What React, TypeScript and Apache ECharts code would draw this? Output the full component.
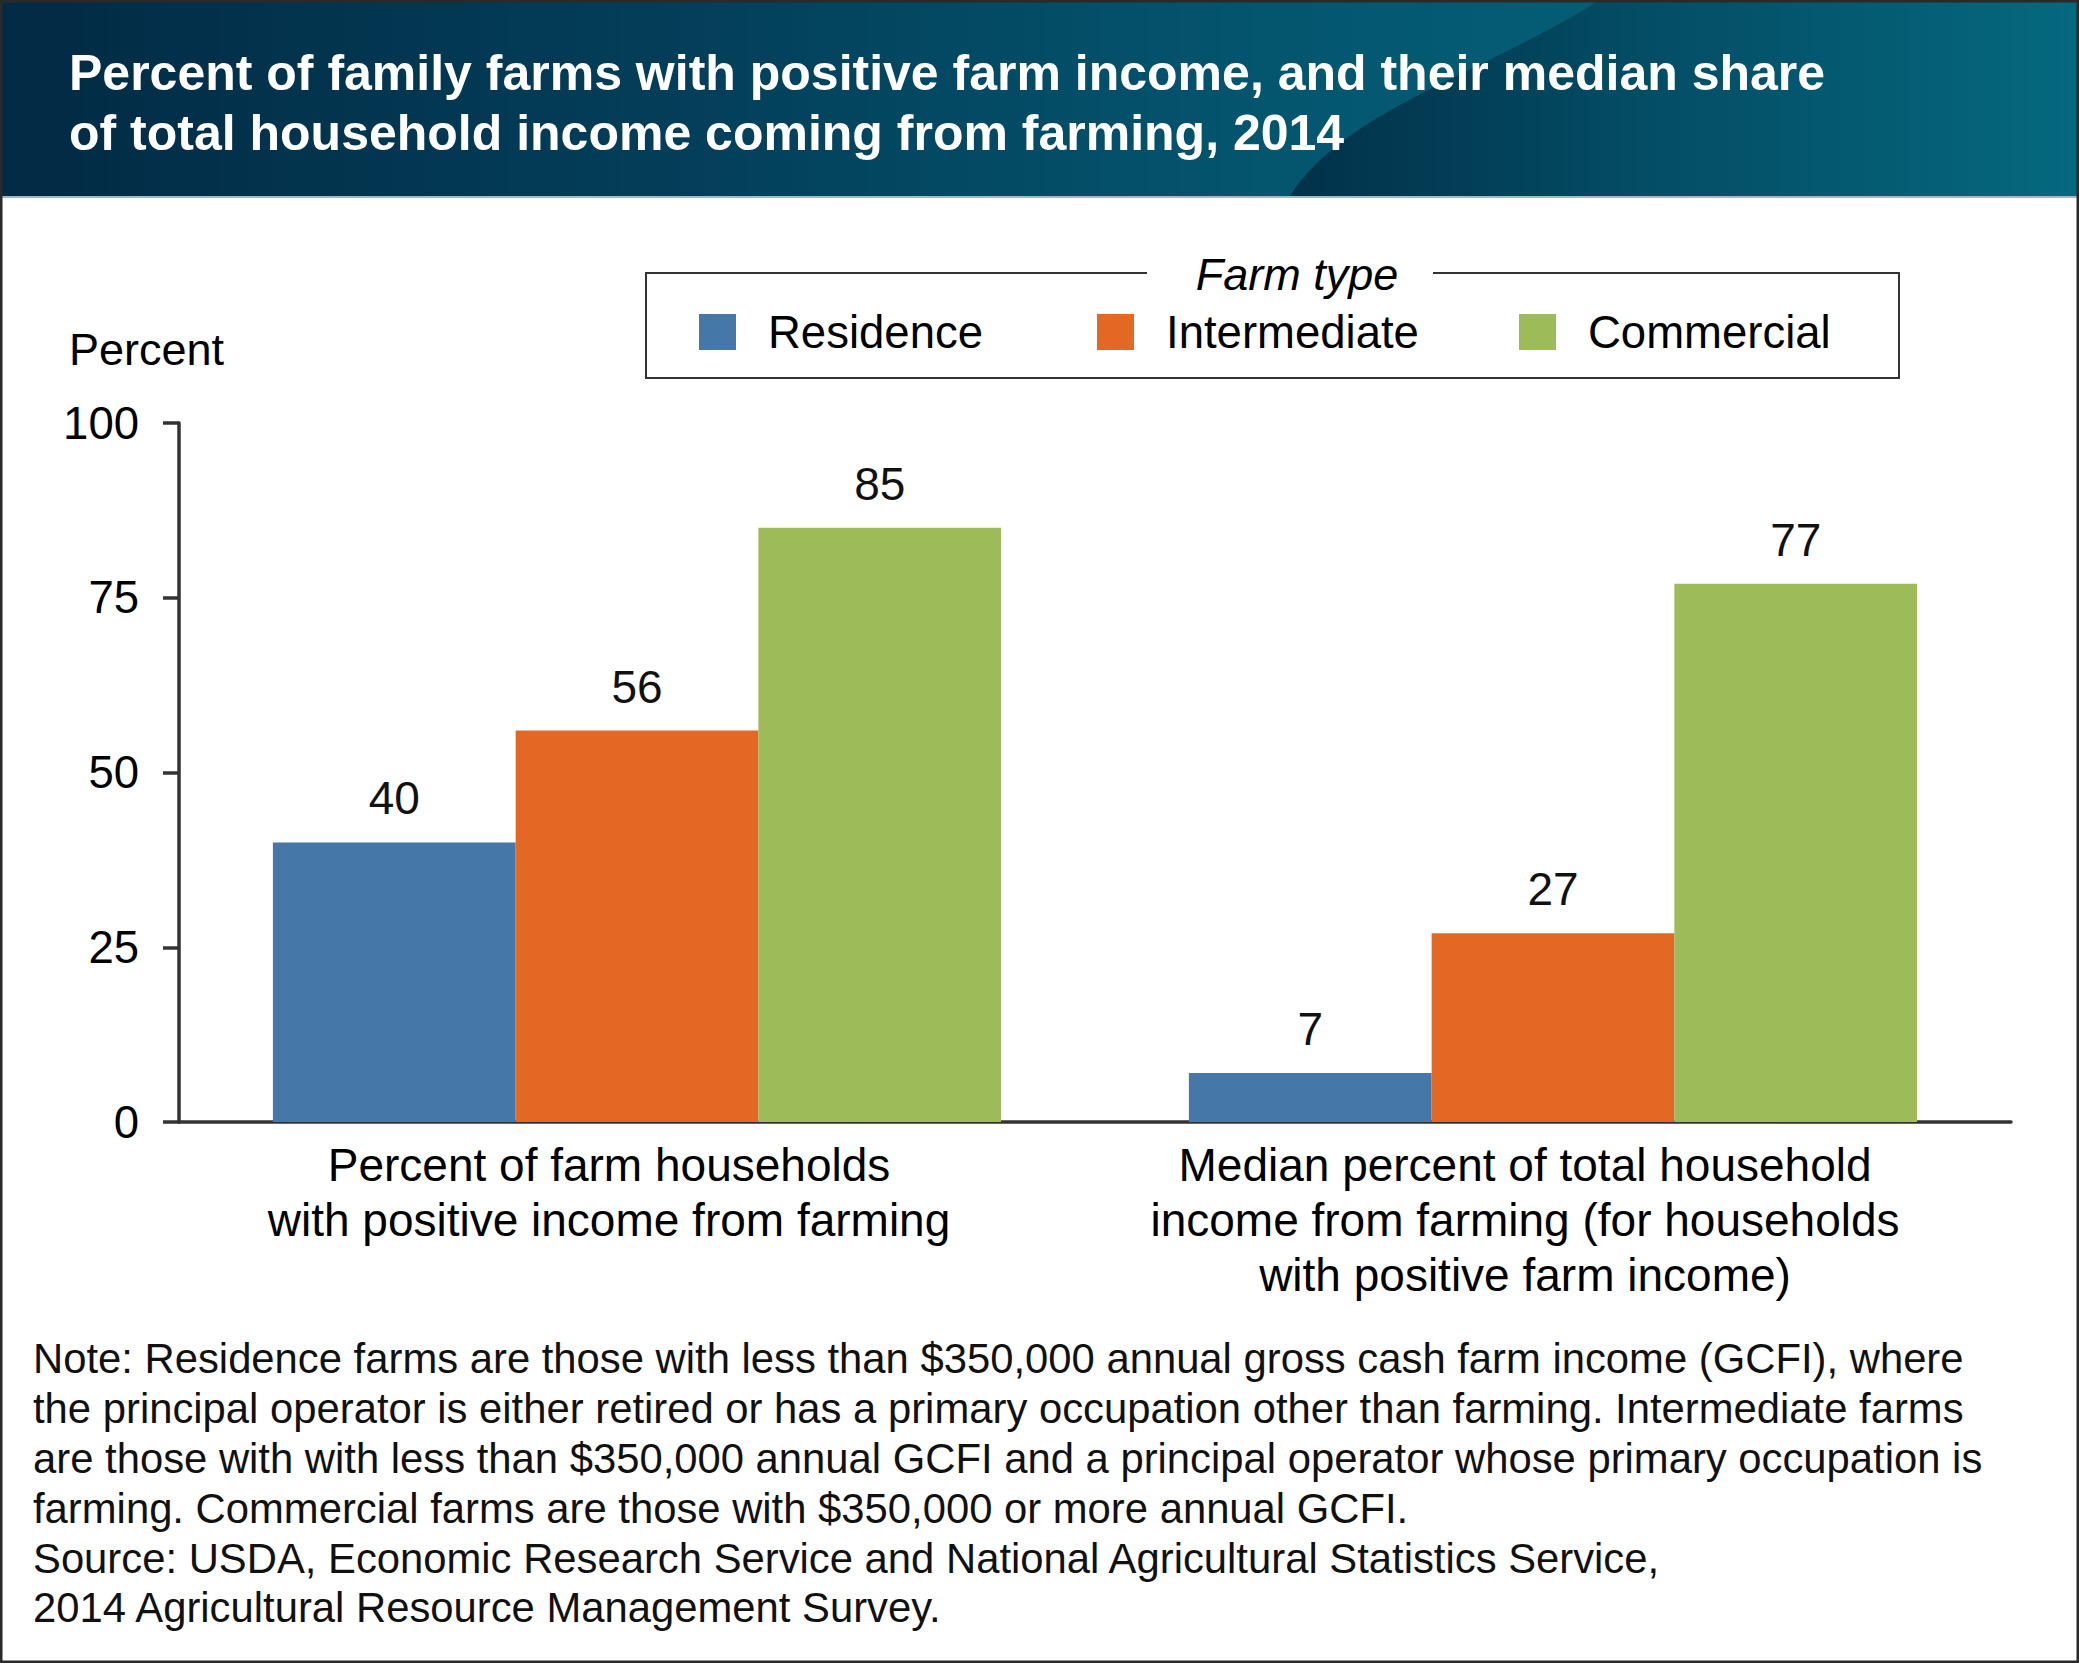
import React, { useEffect, useRef } from "react";
import * as echarts from "echarts";

const categories = [
  "Percent of farm households\nwith positive income from farming",
  "Median percent of total household\nincome from farming (for households\nwith positive farm income)",
];
const seriesNames = ["Residence", "Intermediate", "Commercial"];
const residence = [40, 7];
const intermediate = [56, 27];
const commercial = [85, 77];
const colors = ["#4577a9", "#e36823", "#9dbb59"];
const yTicks = { min: 0, max: 100, interval: 25 };

const titleText =
  "Percent of family farms with positive farm income, and their median share\nof total household income coming from farming, 2014";
const noteText =
  "Note: Residence farms are those with less than $350,000 annual gross cash farm income (GCFI), where\n" +
  "the principal operator is either retired or has a primary occupation other than farming. Intermediate farms\n" +
  "are those with with less than $350,000 annual GCFI and a principal operator whose primary occupation is\n" +
  "farming. Commercial farms are those with $350,000 or more annual GCFI.\n" +
  "Source: USDA, Economic Research Service and National Agricultural Statistics Service,\n" +
  "2014 Agricultural Resource Management Survey.";

const FONT = '"Liberation Sans", Arial, Helvetica, sans-serif';

echarts.graphic.registerShape(
  "headerWave",
  echarts.graphic.extendPath(
    "M1290 196 C1345 110 1480 75 1600 0 L2079 0 L2079 196 Z",
    {}
  ) as any
);

export default function App() {
  const ref = useRef<HTMLDivElement>(null);
  useEffect(() => {
    document.body.style.margin = "0";
    const chart = echarts.init(ref.current!, null, { renderer: "svg" });
    const values = [residence, intermediate, commercial];
    const legendX = [699, 1097, 1519];
    const option: any = {
      animation: false,
      backgroundColor: "#ffffff",
      textStyle: { fontFamily: FONT },
      grid: {
        left: 179,
        right: 68,
        top: 423,
        bottom: 541,
        containLabel: false,
        outerBoundsMode: "none",
      },
      legend: seriesNames.map((n, i) => ({
        data: [n],
        left: legendX[i],
        top: 309,
        padding: 0,
        itemWidth: 37,
        itemHeight: 36,
        icon: "rect",
        selectedMode: false,
        textStyle: {
          fontSize: 45.5,
          color: "#000",
          fontFamily: FONT,
          padding: [0, 0, 0, 27],
        },
      })),
      xAxis: {
        type: "category",
        data: categories,
        axisLine: { show: true, lineStyle: { color: "#333", width: 3.5 } },
        axisTick: { show: false },
        axisLabel: {
          interval: 0,
          fontSize: 46,
          lineHeight: 55,
          margin: 15,
          color: "#000",
          fontFamily: FONT,
          padding: [0, 56, 0, 0],
        },
      },
      yAxis: {
        type: "value",
        min: yTicks.min,
        max: yTicks.max,
        interval: yTicks.interval,
        splitLine: { show: false },
        axisLine: { show: true, lineStyle: { color: "#333", width: 3.5 } },
        axisTick: {
          show: true,
          length: 16,
          lineStyle: { color: "#333", width: 3.5 },
        },
        axisLabel: {
          fontSize: 45.5,
          color: "#000",
          margin: 40,
          fontFamily: FONT,
        },
      },
      series: seriesNames.map((n, i) => ({
        name: n,
        type: "bar",
        data: values[i],
        barGap: "0%",
        barCategoryGap: "20.5%",
        itemStyle: { color: colors[i] },
        label: {
          show: true,
          position: "top",
          distance: 21,
          fontSize: 46,
          color: "#111",
          fontFamily: FONT,
        },
      })),
      graphic: [
        {
          type: "rect",
          shape: { x: 0, y: 0, width: 2079, height: 196 },
          style: {
            fill: new echarts.graphic.LinearGradient(0, 0, 1, 0, [
              { offset: 0, color: "#022a44" },
              { offset: 0.35, color: "#03405b" },
              { offset: 0.62, color: "#04566f" },
              { offset: 1, color: "#05697f" },
            ]),
          },
          z: 0,
        },
        {
          type: "headerWave",
          x: 0,
          y: 0,
          style: {
            fill: new echarts.graphic.LinearGradient(0, 0, 1, 0, [
              { offset: 0, color: "rgba(0,38,62,0.75)" },
              { offset: 0.45, color: "rgba(0,38,62,0.3)" },
              { offset: 1, color: "rgba(0,38,62,0)" },
            ]),
          },
          z: 1,
        },
        {
          type: "line",
          shape: { x1: 0, y1: 197, x2: 2079, y2: 197 },
          style: { stroke: "#9fb9c6", lineWidth: 2 },
          z: 2,
        },
        {
          type: "text",
          x: 69,
          y: 43,
          style: {
            text: titleText,
            fill: "#ffffff",
            fontSize: 50,
            fontWeight: "bold",
            fontFamily: FONT,
            lineHeight: 60,
            textVerticalAlign: "top",
          },
          z: 3,
        },
        {
          type: "text",
          x: 69,
          y: 349,
          style: {
            text: "Percent",
            fill: "#000",
            fontSize: 45,
            fontFamily: FONT,
            textVerticalAlign: "middle",
          },
        },
        {
          type: "polyline",
          shape: {
            points: [
              [1147, 273],
              [646, 273],
              [646, 378],
              [1899, 378],
              [1899, 273],
              [1433, 273],
            ],
          },
          style: { stroke: "#333", lineWidth: 2, fill: null },
        },
        {
          type: "text",
          x: 1297,
          y: 274,
          style: {
            text: "Farm type",
            fill: "#000",
            fontSize: 45,
            fontStyle: "italic",
            fontFamily: FONT,
            textAlign: "center",
            textVerticalAlign: "middle",
          },
        },
        {
          type: "text",
          x: 33,
          y: 1334,
          style: {
            text: noteText,
            fill: "#111",
            fontSize: 41.8,
            lineHeight: 49.8,
            fontFamily: FONT,
            textVerticalAlign: "top",
          },
        },
        {
          type: "rect",
          shape: { x: 1, y: 1, width: 2077, height: 1661 },
          style: { stroke: "#2a2a2a", lineWidth: 3, fill: null },
          z: 10,
        },
      ],
    };
    chart.setOption(option);
    return () => chart.dispose();
  }, []);
  return <div ref={ref} style={{ width: 2079, height: 1663 }} />;
}
